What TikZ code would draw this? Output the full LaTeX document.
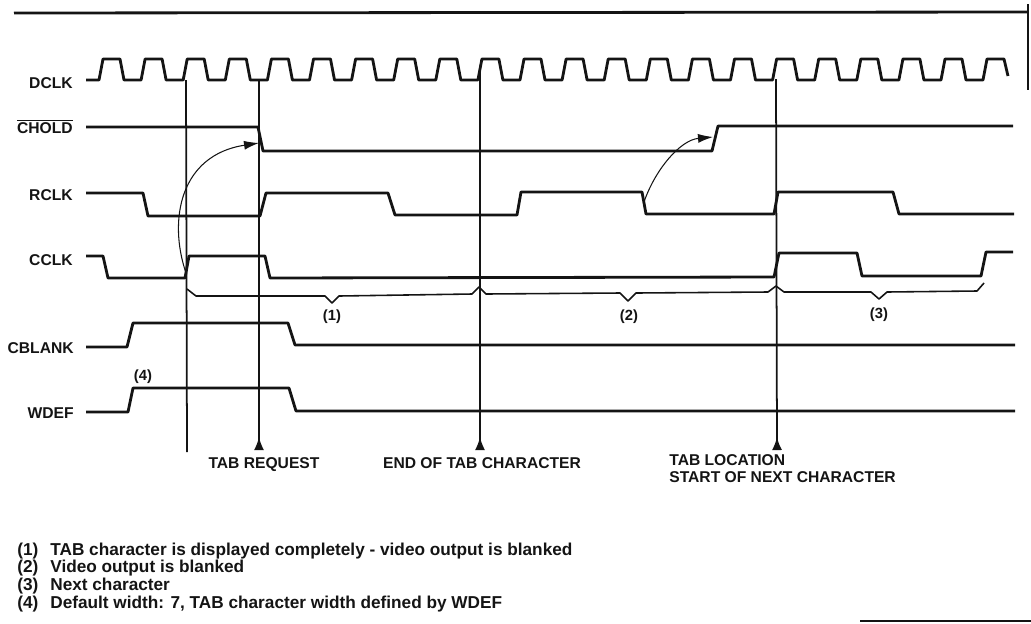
\documentclass[tikz,border=0pt]{standalone}
\usepackage{fontspec}
\setsansfont{Liberation Sans}
\usetikzlibrary{arrows.meta}
\definecolor{timInk}{HTML}{141414}
\tikzset{
  tim wave/.style={draw=timInk, line width=1.6pt, line join=round},
  tim marker/.style={draw=timInk, line width=1pt},
  tim brace/.style={draw=timInk, line width=0.9pt, line join=round},
  tim curve/.style={draw=timInk, line width=0.6pt, -{Latex[length=3mm,width=1.8mm]}},
  tim frame/.style={draw=timInk, line width=1.6pt},
  tim thin/.style={draw=timInk, line width=0.6pt},
  tim label/.style={font=\sffamily\bfseries\fontsize{8.9}{9.6}\selectfont, text=timInk, inner sep=0pt},
  tim small label/.style={font=\sffamily\bfseries\fontsize{8.4}{9}\selectfont, text=timInk, inner sep=0pt},
  tim note/.style={font=\sffamily\bfseries\fontsize{9.8}{10}\selectfont, text=timInk, inner sep=0pt},
}

\begin{document}
\begin{tikzpicture}[x=0.02cm, y=-0.02cm]
  \useasboundingbox (0,0) rectangle (1031,623);

  % Page rules
  \draw[tim frame] (14,13) -- (1028,12);
  \draw[tim thin] (1028,4) -- (1028,90);
  \draw[tim thin] (860,621) -- (1031,621);

  % Signal names
  \node[tim label, anchor=base east] (dclk) at (73,88.6) {DCLK};
  \node[tim label, anchor=base east] (chold) at (73,133.6) {$\overline{\mbox{CHOLD}}$};
  \node[tim label, anchor=base east] (rclk) at (73,200.6) {RCLK};
  \node[tim label, anchor=base east] (cclk) at (73,265.6) {CCLK};
  \node[tim label, anchor=base east] (cblank) at (74,353.6) {CBLANK};
  \node[tim label, anchor=base east] (wdef) at (74,418.6) {WDEF};

  % DCLK
  \draw[tim wave] (86,80) foreach \k in {0,...,20} {
      -- ({99+42.1*\k},80) -- ({103+42.1*\k},59) -- ({120+42.1*\k},59) -- ({124+42.1*\k},80)}
    -- (983,80) -- (987,59) -- (1004,59) -- (1008,76);

  % CHOLD
  \draw[tim wave] (86,127) -- (258,127) -- (263,151) -- (712,151) -- (718,126) -- (1013,126);

  % RCLK
  \draw[tim wave] (86,193) -- (143,193) -- (148,216) -- (260,216) -- (266,193) -- (388,193)
    -- (395,215) -- (517,215) -- (521,192) -- (642,192) -- (646,214) -- (774,214)
    -- (778,192) -- (893,192) -- (899,214) -- (1014,214);

  % CCLK
  \draw[tim wave] (86,256) -- (103,256) -- (108,278) -- (185,278) -- (189,256) -- (265,256)
    -- (270,278) -- (774,277) -- (779,253) -- (857,253) -- (862,276) -- (981,276)
    -- (986,252) -- (1013,252);

  % CBLANK and WDEF
  \draw[tim wave] (86,347) -- (127,347) -- (133,323) -- (288,323) -- (295,345) -- (1015,345);
  \draw[tim wave] (86,412) -- (128,412) -- (133,388) -- (289,388) -- (296,411) -- (1015,411);

  % Interval brace under CCLK
  \draw[tim brace] (187,289) -- (196,296) -- (325,296) -- (332,303) -- (339,296) -- (472,294)
    -- (479,287) -- (486,294) -- (620,293) -- (628,301) -- (636,293) -- (768,292)
    -- (776,286) -- (784,292) -- (871,292) -- (879,299) -- (887,292) -- (977,291) -- (984,283);
  \node[tim small label] (note1) at (332,317) {(1)};
  \node[tim small label] (note2) at (629,317) {(2)};
  \node[tim small label] (note3) at (879,315) {(3)};
  \node[tim small label] (note4) at (143,377) {(4)};

  % Time markers
  \coordinate (tabTop) at (186,80);
  \coordinate (tabBot) at (187,452);
  \draw[tim marker] (tabTop) -- (tabBot);

  \coordinate (reqTop) at (259,80);
  \coordinate (reqBot) at (259,450);
  \draw[tim marker, -{Latex[reversed,length=2.6mm,width=2mm]}] (reqTop) -- (reqBot);
  \node[tim label, anchor=base] (lblReq) at (264,468.6) {TAB REQUEST};

  \coordinate (endTop) at (480,68);
  \coordinate (endBot) at (480,450);
  \draw[tim marker, -{Latex[reversed,length=2.6mm,width=2mm]}] (endTop) -- (endBot);
  \node[tim label, anchor=base] (lblEnd) at (482,468.6) {END OF TAB CHARACTER};

  \coordinate (locTop) at (776,79);
  \coordinate (locBot) at (777,450);
  \draw[tim marker, -{Latex[reversed,length=2.6mm,width=2mm]}] (locTop) -- (locBot);
  \node[tim label, anchor=base west] (lblLoc) at (669,465.6) {TAB LOCATION};
  \node[tim label, anchor=base west] (lblNext) at (669,482.6) {START OF NEXT CHARACTER};

  % Cause arrows
  \coordinate (cclkUp) at (186,273);
  \coordinate (choldDn) at (259,143);
  \draw[tim curve] (cclkUp) .. controls (168,220) and (180,155) .. (choldDn);
  \coordinate (rclkDn) at (644,202);
  \coordinate (choldUp) at (713,137);
  \draw[tim curve] (rclkDn) .. controls (655,170) and (680,140) .. (choldUp);

  % Notes
  \node[tim note, anchor=base west] (legend) at (17,555) {%
    \begin{tabular}[t]{@{}l@{\hspace{6.8pt}}l@{}}
      (1) & TAB character is displayed completely - video output is blanked\\
      (2) & Video output is blanked\\
      (3) & Next character\\
      (4) & Default width: 7, TAB character width defined by WDEF
    \end{tabular}};
\end{tikzpicture}
\end{document}
